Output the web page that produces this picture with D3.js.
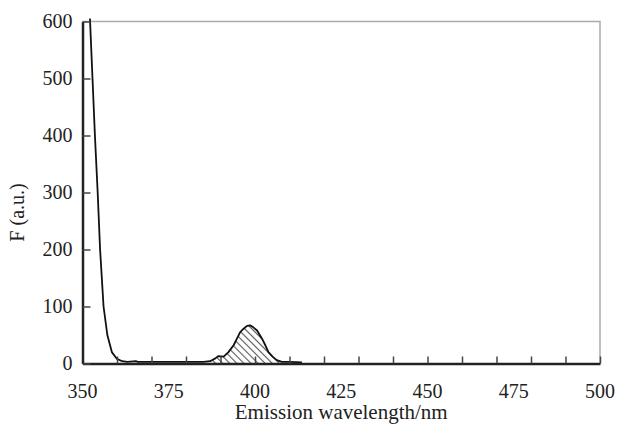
<!DOCTYPE html>
<html>
<head>
<script src="https://cdnjs.cloudflare.com/ajax/libs/d3/7.8.5/d3.min.js"></script>
<style>
    body { margin: 0; background: #fff; }
    svg text { font-family: "Liberation Serif", "Times New Roman", serif !important; fill: #222; }
</style>
</head>
<body>
<div id="chart"></div>
<script>
// emission spectrum
var wavelength = [351.8, 352.2, 352.9, 353.6, 354.4, 355.1, 356.1, 357.2, 358.5, 360, 361.5, 363, 365.5, 366, 367, 370, 375, 380, 385, 387,
                  388.5, 389.4, 390.9, 392.3, 393.8, 394.8, 395.7, 396.7, 397.7, 398.6, 399.6, 400.6, 402, 403, 403.9, 405.1, 406.3, 407.8, 410, 413.6];
var intensity  = [660, 600, 500, 400, 300, 200, 100, 50, 20, 8, 4, 3, 4, 3, 3, 3, 3, 3, 3, 4,
                  9, 13, 12, 20, 32, 44, 55, 61, 66, 67, 63, 58, 44, 32, 20, 12, 6, 3, 3, 2];
// shaded peak range
var peakRange = [387, 409];

var xTicks = [350, 375, 400, 425, 450, 475, 500];
var xMinor = d3.range(360, 501, 10);
var yTicks = [0, 100, 200, 300, 400, 500, 600];

var width = 617, height = 425;
var mLeft = 82.5, mRight = 600, mTop = 21.5, mBottom = 363.5;
var serif = "'Liberation Serif', 'Times New Roman', serif";

var svg = d3.select("#chart").append("svg")
    .attr("width", width)
    .attr("height", height)
    .attr("font-family", serif);

var x = d3.scaleLinear().domain([350, 500]).range([mLeft, mRight]);
var y = d3.scaleLinear().domain([0, 600]).range([mBottom, mTop]);

var data = wavelength.map((w, i) => ({ w: w, f: intensity[i] }));

// hatch pattern for the peak
var defs = svg.append("defs");
defs.append("pattern")
    .attr("id", "hatch")
    .attr("patternUnits", "userSpaceOnUse")
    .attr("width", 5)
    .attr("height", 5)
    .attr("patternTransform", "rotate(-45)")
    .append("line")
    .attr("x1", 0).attr("y1", 0)
    .attr("x2", 0).attr("y2", 5)
    .attr("stroke", "#555")
    .attr("stroke-width", 2.2);

defs.append("clipPath").attr("id", "clip")
    .append("rect")
    .attr("x", mLeft).attr("y", mTop - 3)
    .attr("width", mRight - mLeft).attr("height", mBottom - mTop + 3);

// frame: top and right grey
svg.append("path")
    .attr("d", `M${mLeft},${mTop}H${mRight}V${mBottom}`)
    .attr("fill", "none")
    .attr("stroke", "#aaa")
    .attr("stroke-width", 1.5);

// peak area
var peak = data.filter(d => d.w >= peakRange[0] && d.w <= peakRange[1]);
svg.append("path")
    .datum(peak)
    .attr("clip-path", "url(#clip)")
    .attr("fill", "url(#hatch)")
    .attr("d", d3.area().x(d => x(d.w)).y0(y(0)).y1(d => y(d.f)));

// spectrum line
svg.append("path")
    .datum(data)
    .attr("clip-path", "url(#clip)")
    .attr("fill", "none")
    .attr("stroke", "#111")
    .attr("stroke-width", 1.8)
    .attr("stroke-linejoin", "round")
    .attr("d", d3.line().x(d => x(d.w)).y(d => y(d.f)));

// x axis
var xAxis = svg.append("g")
    .attr("transform", `translate(0,${mBottom})`)
    .call(d3.axisBottom(x).tickValues(xMinor).tickSize(-7).tickSizeOuter(0).tickFormat(""));
xAxis.select(".domain").attr("stroke", "#222").attr("stroke-width", 2.5);
xAxis.selectAll(".tick line").attr("stroke", "#444").attr("stroke-width", 1.5);

svg.selectAll(".xlab")
    .data(xTicks)
    .enter().append("text")
    .attr("class", "xlab")
    .attr("x", d => x(d))
    .attr("y", 398)
    .attr("text-anchor", "middle")
    .attr("font-family", serif)
    .attr("font-size", 20)
    .text(d => d);

// y axis
var yAxis = svg.append("g")
    .attr("transform", `translate(${mLeft},0)`)
    .call(d3.axisLeft(y).tickValues(yTicks).tickSize(-8).tickSizeOuter(0));
yAxis.attr("font-family", serif);
yAxis.select(".domain").attr("stroke", "#222").attr("stroke-width", 2.5);
yAxis.selectAll(".tick line").attr("stroke", "#444").attr("stroke-width", 1.5);
yAxis.selectAll(".tick text")
    .attr("x", -10)
    .attr("font-size", 20)
    .attr("font-family", serif)
    .attr("fill", "#222");

// axis titles
svg.append("text")
    .attr("x", (mLeft + mRight) / 2)
    .attr("y", 419)
    .attr("text-anchor", "middle")
    .attr("font-family", serif)
    .attr("font-size", 21)
    .text("Emission wavelength/nm");

svg.append("text")
    .attr("transform", `translate(24,${(mTop + mBottom) / 2 + 20}) rotate(-90)`)
    .attr("text-anchor", "middle")
    .attr("font-family", serif)
    .attr("font-size", 20)
    .text("F (a.u.)");
</script>
</body>
</html>
